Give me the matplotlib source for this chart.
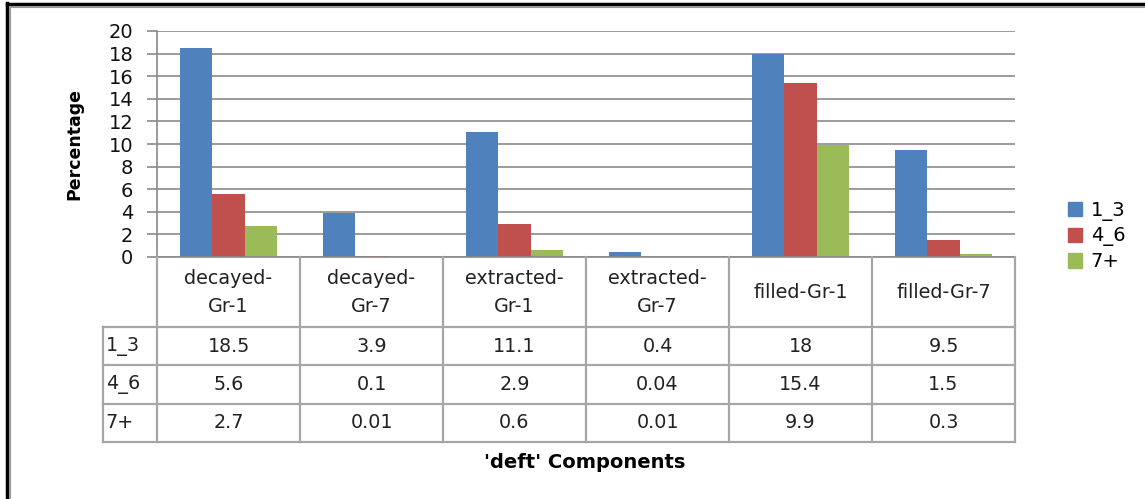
import matplotlib
matplotlib.use("Agg")
import matplotlib.pyplot as plt
from matplotlib.lines import Line2D
from matplotlib.patches import Rectangle

# dmft component percentages by age group
categories = ["decayed-\nGr-1", "decayed-\nGr-7", "extracted-\nGr-1",
              "extracted-\nGr-7", "filled-Gr-1", "filled-Gr-7"]
series_names = ["1_3", "4_6", "7+"]
vals_1_3 = [18.5, 3.9, 11.1, 0.4, 18, 9.5]
vals_4_6 = [5.6, 0.1, 2.9, 0.04, 15.4, 1.5]
vals_7p = [2.7, 0.01, 0.6, 0.01, 9.9, 0.3]
colors = ["#4F81BD", "#C0504D", "#9BBB59"]

W, H = 1145, 499
fig = plt.figure(figsize=(W / 100, H / 100), dpi=100)
plt.rcParams["font.family"] = "DejaVu Sans"

# frame in pixel coordinates
def fx(px):
    return px / W

def fy(py):
    return 1 - py / H

left, right, top, bottom = 157, 1015, 31, 257
ax = fig.add_axes([fx(left), fy(bottom), fx(right - left), (bottom - top) / H])

series = [vals_1_3, vals_4_6, vals_7p]
n = len(categories)
bw = 0.225
for k, (vals, c) in enumerate(zip(series, colors)):
    xs = [i + (k - 1) * bw for i in range(n)]
    ax.bar(xs, vals, width=bw, color=c, label=series_names[k], zorder=3)

ax.set_xlim(-0.5, n - 0.5)
ax.set_ylim(0, 20)
ax.set_yticks(range(0, 21, 2))
ax.set_xticks([])
ax.yaxis.grid(True, color="#8a8a8a", lw=1.2, zorder=0)
for s in ["top", "right", "bottom"]:
    ax.spines[s].set_visible(False)
ax.spines["left"].set_color("#8a8a8a")
ax.spines["left"].set_linewidth(1.2)
ax.tick_params(axis="y", direction="out", length=7, width=1.2, color="#8a8a8a",
               labelsize=14, pad=10, labelcolor="#111111")
ax.set_ylabel("Percentage", fontsize=12.5, fontweight="bold", labelpad=18)

# data table below the plot
row_w = 54 / 143
header_h = 70
row_h = (442 - 327) / 3
tbl_bottom = 442
tax = fig.add_axes([fx(103), fy(tbl_bottom), fx(right - 103), (tbl_bottom - bottom) / H])
tax.set_xlim(-0.5 - row_w, n - 0.5)
tax.set_ylim(header_h + 3 * row_h, 0)
tax.axis("off")

lc = "#a6a6a6"
lw = 1.6
fs = 13.8
x0 = -0.5 - row_w
total_h = header_h + 3 * row_h
tax.plot([-0.5, n - 0.5], [0, 0], color="#8a8a8a", lw=1.2, clip_on=False)
for r in range(4):
    yy = header_h + r * row_h
    tax.plot([x0, n - 0.5], [yy, yy], color=lc, lw=lw, clip_on=False)
for i in range(n + 1):
    tax.plot([i - 0.5, i - 0.5], [0, total_h], color=lc, lw=lw, clip_on=False)
tax.plot([x0, x0], [header_h, total_h], color=lc, lw=lw, clip_on=False)

for i, cat in enumerate(categories):
    tax.text(i, header_h / 2, cat, ha="center", va="center", fontsize=fs,
             linespacing=1.6, color="#222222")
for r, (name, vals) in enumerate(zip(series_names, series)):
    yc = header_h + (r + 0.5) * row_h
    tax.text(x0 + 0.02, yc, name, ha="left", va="center", fontsize=fs,
             color="#222222")
    for i, v in enumerate(vals):
        tax.text(i, yc, f"{v:g}", ha="center", va="center", fontsize=fs,
                 color="#222222")

fig.text(fx(585), fy(462), "'deft' Components", ha="center", va="center",
         fontsize=14, fontweight="bold")

# legend
handles = [Rectangle((0, 0), 1, 1, color=c) for c in colors]
fig.legend(handles, series_names, loc="center left", bbox_to_anchor=(fx(1050), fy(236)),
           frameon=False, fontsize=14, handlelength=0.75, handleheight=0.75,
           labelspacing=0.3, handletextpad=0.45)

# chart border
fig.add_artist(Line2D([fx(6.5), fx(6.5)], [0, fy(3)], color="black", lw=2.5))
fig.add_artist(Line2D([fx(6.5), 1], [fy(4), fy(4)], color="black", lw=2.5))
fig.add_artist(Line2D([fx(10), fx(10)], [0, fy(6.5)], color="#9a9a9a", lw=1.5))
fig.add_artist(Line2D([fx(10), 1], [fy(7), fy(7)], color="#9a9a9a", lw=1.5))

fig.savefig("out.png", dpi=100)
